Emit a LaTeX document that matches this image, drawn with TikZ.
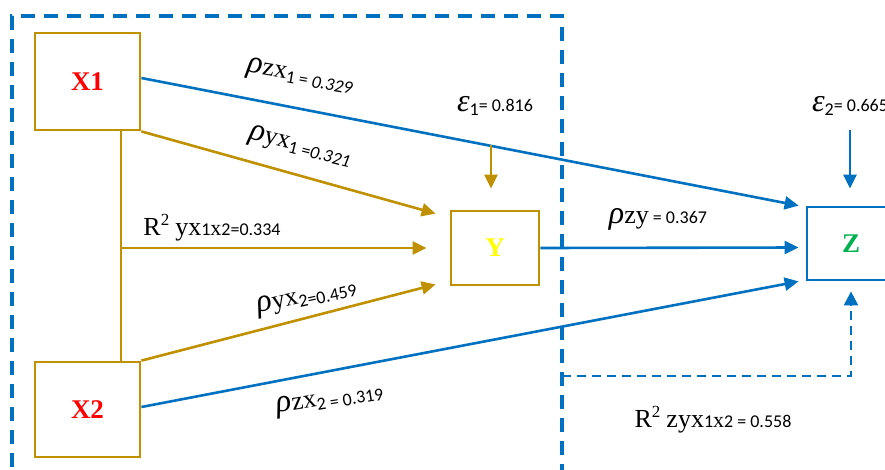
\documentclass[tikz,border=0pt]{standalone}
\usepackage{fontspec}
\setmainfont{Liberation Serif}
\newfontfamily\calf{Carlito}
\usetikzlibrary{arrows.meta,calc}
\definecolor{gold}{HTML}{BF9000}
\definecolor{blu}{HTML}{0070C0}
\definecolor{grn}{HTML}{00B050}
\definecolor{yel}{HTML}{FFFF00}
\newcommand\bigrho{{\itshape\fontsize{32}{32}\selectfont ρ}}
\newcommand\epsl{{\itshape\fontsize{32}{32}\selectfont ε}}
\newcommand\letr[1]{{\fontsize{26}{26}\selectfont #1}}
\newcommand\nmb[1]{{\calf\fontsize{18}{18}\selectfont #1}}
\newcommand\lowr[1]{\raisebox{-4pt}{\nmb{#1}}}
\newcommand\sqr{\raisebox{10pt}{\fontsize{17}{17}\selectfont 2}\hspace{6pt}}
\begin{document}
\begin{tikzpicture}[x=1pt,y=-1pt,
  box/.style={draw=gold, line width=2.8pt, inner sep=0pt, font=\bfseries\fontsize{27}{27}\selectfont},
  garrow/.style={draw=gold, line width=2.6pt, -{Triangle[length=14pt,width=13pt]}},
  barrow/.style={draw=blu, line width=2.6pt, -{Triangle[length=14pt,width=13pt]}},
  lab/.style={inner sep=0pt}]
\useasboundingbox (0,0) rectangle (885,469);
\clip (0,0) rectangle (885,469);
\draw[blu, line width=3.5pt, dash pattern=on 14pt off 9pt] (12,490) -- (12,16) -- (562,16) -- (562,490);
\coordinate (fb) at (562,376);
\node[box, minimum width=105pt, minimum height=97pt, text=red] (X1) at (87.5,81.5) {X1};
\node[box, minimum width=105pt, minimum height=95pt, text=red] (X2) at (87.5,409.5) {X2};
\node[box, minimum width=88pt, minimum height=74pt, text=yel] (Y) at (495,248) {Y};
\node[box, draw=blu, minimum width=88pt, minimum height=73pt, text=grn] (Z) at (851,243.5) {Z};
\coordinate (a1) at ($(X1.south west)!0.81!(X1.south east)$);
\coordinate (a2) at ($(X2.north west)!0.81!(X2.north east)$);
\draw[gold, line width=2.6pt] (a1) -- (a2);
\draw[garrow] (Y.west -| a1) -- ([xshift=-23pt]Y.west);
\draw[garrow] (X1.south east) -- ([xshift=-14pt,yshift=-4pt]Y.north west);
\draw[garrow] (X2.north east) -- ([xshift=-14pt,yshift=2pt]Y.south west);
\draw[barrow] ([yshift=3.5pt]X1.east) -- ([xshift=-7pt]Z.north west);
\draw[barrow] (Y.east) -- ([xshift=-7pt,yshift=-4pt]Z.west);
\draw[barrow] ([yshift=2.5pt]X2.east) -- ([xshift=-7pt]Z.south west);
\coordinate (e1s) at (491,145);
\coordinate (e2s) at (850,130);
\draw[garrow] (e1s) -- ([yshift=21pt]Y.north -| e1s);
\draw[barrow] (e2s) -- ([yshift=17pt]Z.north -| e2s);
\draw[blu, line width=2.4pt, dash pattern=on 9pt off 6pt, -{Triangle[length=14pt,width=14pt]}] (fb) -- (fb -| Z.south) -- ([yshift=-10pt]Z.south);
\node[lab, rotate=-10] (l1) at (300,77) {\bigrho\letr{zx}\lowr{1 = \itshape 0.329}};
\node[lab, rotate=-14] (l2) at (300,147) {\bigrho\letr{yx}\lowr{1 =\itshape 0.321}};
\node[lab] (l3) at (212,228) {\letr{R}\sqr\letr{yx}\nmb{1}{\fontsize{22}{22}\selectfont x}\nmb{2=0.334}};
\node[lab, rotate=12] (l4) at (307,298) {\bigrho\letr{yx}\lowr{2=0.459}};
\node[lab, rotate=9] (l5) at (330,400) {\bigrho\letr{zx}\lowr{2 = 0.319}};
\node[lab] (l6) at (658,219) {\bigrho\letr{zy}\nmb{\ = 0.367}};
\node[lab] (l7) at (713,420) {\letr{R}\sqr\letr{zyx}\nmb{1}{\fontsize{22}{22}\selectfont x}\nmb{2 = 0.558}};
\node[lab] (l8) at (495,106) {\epsl\lowr{1}\nmb{= 0.816}};
\node[lab] (l9) at (850,106) {\epsl\lowr{2}\nmb{= 0.665}};
\end{tikzpicture}
\end{document}
